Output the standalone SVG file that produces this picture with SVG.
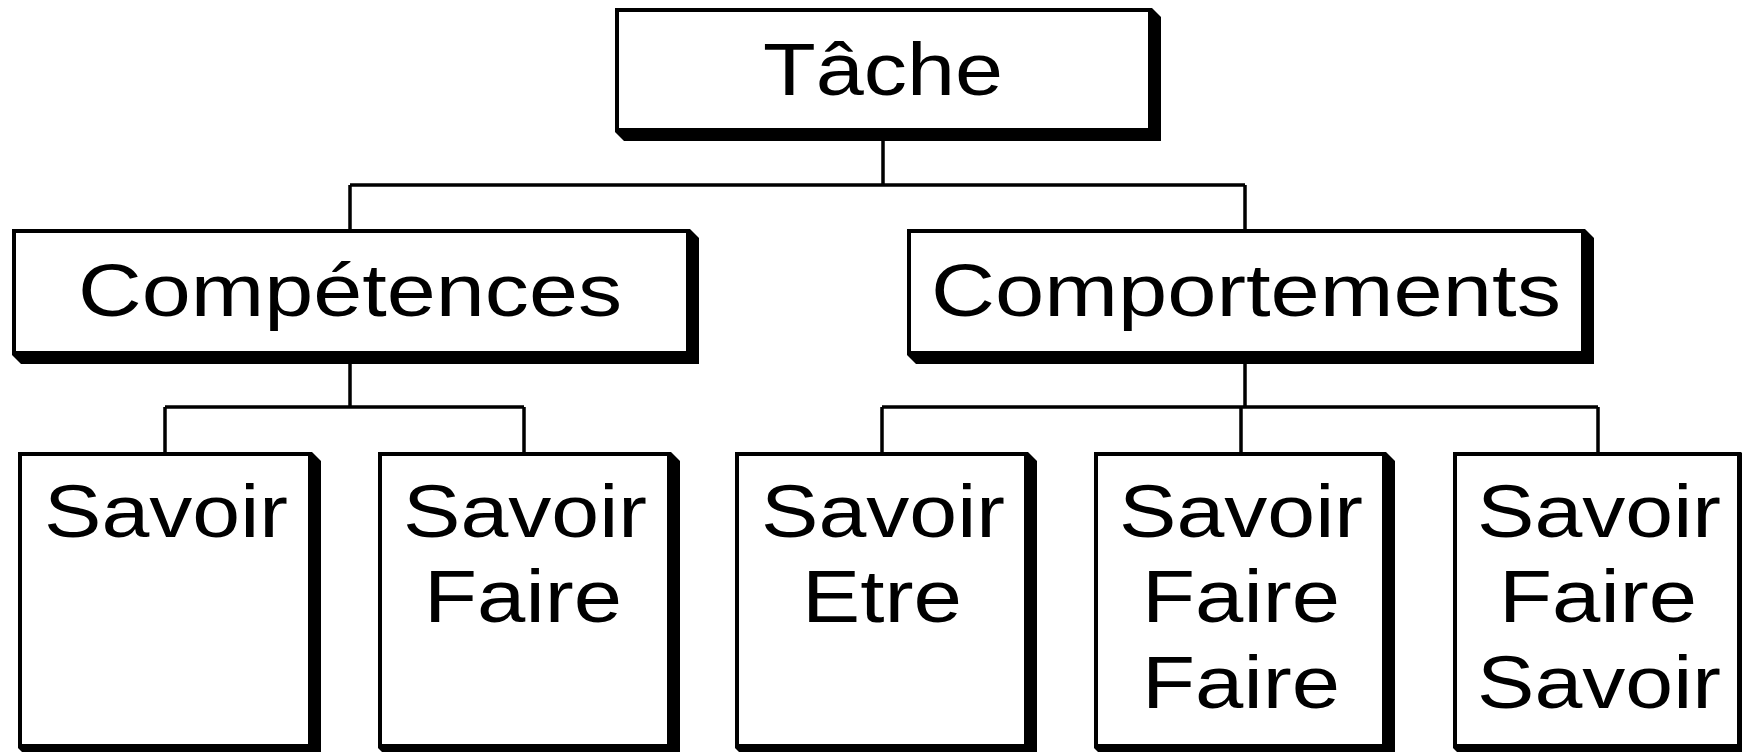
<svg xmlns="http://www.w3.org/2000/svg" width="1742" height="752" viewBox="0 0 1742 752">
  <style>
    .shadow { fill: #000; }
    .box { fill: #fff; stroke: #000; stroke-width: 4; }
    .link { fill: none; stroke: #000; stroke-width: 3.5; stroke-linecap: butt; }
    .label { font-family: "Liberation Sans", Arial, sans-serif; font-size: 74px; fill: #000; text-anchor: middle; }
  </style>

  <rect x="0" y="0" width="1742" height="752" fill="#fff"/>

  <!-- connectors -->
  <g id="connectors" class="link">
    <path d="M883 132 V185 M350 185 H1245 M350 185 V229 M1245 185 V229"/>
    <path d="M350 355 V407 M165 407 H524 M165 407 V452 M524 407 V452"/>
    <path d="M1245 355 V407 M882 407 H1598 M882 407 V452 M1241 407 V452 M1598 407 V452"/>
  </g>

  <!-- root -->
  <g id="tache">
    <polygon class="shadow" points="615,132 624,141 1161,141 1161,17 1152,8"/>
    <rect class="box" x="617" y="10" width="533" height="120"/>
    <text class="label" x="883" y="94.5" textLength="240" lengthAdjust="spacingAndGlyphs">Tâche</text>
  </g>

  <!-- second level -->
  <g id="competences">
    <polygon class="shadow" points="12,355 21,364 699,364 699,238 690,229"/>
    <rect class="box" x="14" y="231" width="674" height="122"/>
    <text class="label" x="350" y="315.5" textLength="544" lengthAdjust="spacingAndGlyphs">Compétences</text>
  </g>

  <g id="comportements">
    <polygon class="shadow" points="907,355 916,364 1594,364 1594,238 1585,229"/>
    <rect class="box" x="909" y="231" width="674" height="122"/>
    <text class="label" x="1246" y="315.5" textLength="630" lengthAdjust="spacingAndGlyphs">Comportements</text>
  </g>

  <!-- third level -->
  <g id="savoir">
    <polygon class="shadow" points="18,748 27,757 321,757 321,461 312,452"/>
    <rect class="box" x="20" y="454" width="290" height="292"/>
    <text class="label" x="166" y="536.5" textLength="244" lengthAdjust="spacingAndGlyphs">Savoir</text>
  </g>

  <g id="savoir-faire">
    <polygon class="shadow" points="378,748 387,757 680,757 680,461 671,452"/>
    <rect class="box" x="380" y="454" width="289" height="292"/>
    <text class="label" x="525" y="536.5" textLength="244" lengthAdjust="spacingAndGlyphs">Savoir</text>
    <text class="label" x="523" y="622" textLength="198" lengthAdjust="spacingAndGlyphs">Faire</text>
  </g>

  <g id="savoir-etre">
    <polygon class="shadow" points="735,748 744,757 1037,757 1037,461 1028,452"/>
    <rect class="box" x="737" y="454" width="289" height="292"/>
    <text class="label" x="883" y="536.5" textLength="244" lengthAdjust="spacingAndGlyphs">Savoir</text>
    <text class="label" x="882" y="622" textLength="160" lengthAdjust="spacingAndGlyphs">Etre</text>
  </g>

  <g id="savoir-faire-faire">
    <polygon class="shadow" points="1094,748 1103,757 1395,757 1395,461 1386,452"/>
    <rect class="box" x="1096" y="454" width="288" height="292"/>
    <text class="label" x="1241" y="536.5" textLength="244" lengthAdjust="spacingAndGlyphs">Savoir</text>
    <text class="label" x="1241" y="622" textLength="198" lengthAdjust="spacingAndGlyphs">Faire</text>
    <text class="label" x="1241" y="707.5" textLength="198" lengthAdjust="spacingAndGlyphs">Faire</text>
  </g>

  <g id="savoir-faire-savoir">
    <polygon class="shadow" points="1453,748 1462,757 1750,757 1750,461 1741,452"/>
    <rect class="box" x="1455" y="454" width="284" height="292"/>
    <text class="label" x="1599" y="536.5" textLength="244" lengthAdjust="spacingAndGlyphs">Savoir</text>
    <text class="label" x="1598" y="622" textLength="198" lengthAdjust="spacingAndGlyphs">Faire</text>
    <text class="label" x="1599" y="707.5" textLength="244" lengthAdjust="spacingAndGlyphs">Savoir</text>
  </g>
</svg>
